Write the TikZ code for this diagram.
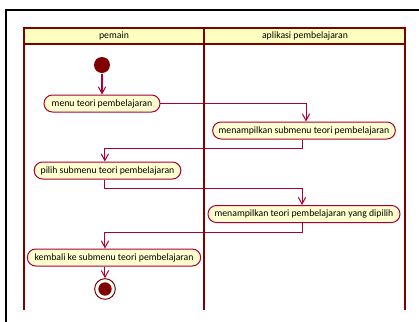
\documentclass[tikz,border=0pt]{standalone}
\usepackage{fontspec}
\setmainfont{Carlito}
\usetikzlibrary{arrows.meta}
\definecolor{lanered}{RGB}{128,0,0}
\definecolor{actred}{RGB}{168,0,54}
\definecolor{headfill}{RGB}{255,255,192}
\definecolor{actfill}{RGB}{254,254,206}
\tikzset{every picture/.style={line width=0.75pt},
  activity/.style={draw=actred, fill=actfill, rounded corners=6.3pt, minimum height=12.75pt, inner sep=0.75pt, font=\fontsize{7.3}{8}\selectfont},
  flow/.style={draw=actred, line width=0.75pt, -{Straight Barb[length=5pt,width=5.5pt]}},
  lanehead/.style={font=\fontsize{7.3}{8}\selectfont, inner sep=0.75pt}
}

\begin{document}
\begin{tikzpicture}[x=0.75pt,y=0.75pt,yscale=-1,xscale=1]
\useasboundingbox (0,0) rectangle (419,322);

%Shape: Frame
\draw [line width=1.5pt] (6,322) -- (6,10) -- (419,10) ;
%Shape: Lane headers
\draw [draw=lanered, fill=headfill, line width=1.5pt] (24,28) rectangle (405,44) ;
%Straight Lines: lane borders
\draw [draw=lanered, line width=1.1pt] (24,44) -- (24,310) ;
\draw [draw=lanered, line width=1.5pt] (204,28) -- (204,310) ;
\draw [draw=lanered, line width=1.1pt] (405,44) -- (405,310) ;

% Text Node
\node [lanehead] (lanePemain) at (114,36) {pemain};
% Text Node
\node [lanehead] (laneAplikasi) at (305,36) {aplikasi pembelajaran};

%Shape: Start
\node [circle, fill=lanered, minimum size=12pt, inner sep=0pt] (start) at (102,65) {};
%Shape: Activities
\node [activity, minimum width=87pt] (menuTeori) at (102,103.5) {menu teori pembelajaran};
\node [activity, minimum width=137pt] (tampilSubmenu) at (304,130.5) {menampilkan submenu teori pembelajaran};
\node [activity, minimum width=110pt] (pilihSubmenu) at (107.5,170.5) {pilih submenu teori pembelajaran};
\node [activity, minimum width=144pt] (tampilTeori) at (304,214) {menampilkan teori pembelajaran yang dipilih};
\node [activity, minimum width=130pt] (kembali) at (114,257.5) {kembali ke submenu teori pembelajaran};
%Shape: End
\node [circle, draw=lanered, line width=0.75pt, minimum size=15.5pt, inner sep=0pt] (stop) at (105,289) {};
\fill [lanered] (stop.center) circle (5pt) ;

%Connectors
\draw [flow] (start) -- (menuTeori) ;
\draw [flow] (menuTeori.east) -| ([xshift=1.5pt]tampilSubmenu.north) ;
\draw [flow] ([xshift=-1pt]tampilSubmenu.south) -- ++(0,9) -| ([xshift=-2pt]pilihSubmenu.north) ;
\draw [flow] ([xshift=-2pt]pilihSubmenu.south) -- ++(0,9) -| ([xshift=-1.5pt]tampilTeori.north) ;
\draw [flow] ([xshift=-1.5pt]tampilTeori.south) -- ++(0,9) -| ([xshift=-6.75pt]kembali.north) ;
\draw [flow] ([xshift=-6.75pt]kembali.south) -- (stop) ;

\end{tikzpicture}
\end{document}
